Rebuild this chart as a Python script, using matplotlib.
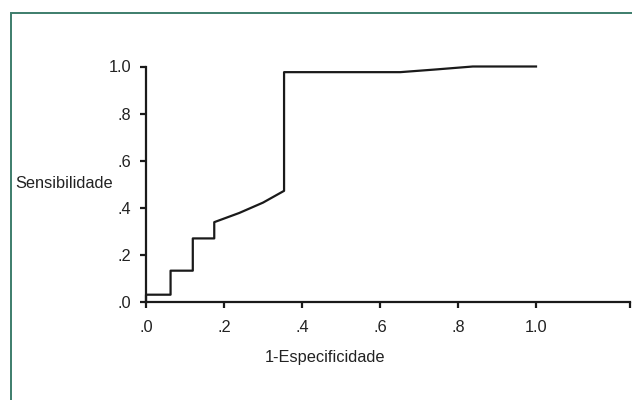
import matplotlib
matplotlib.use("Agg")
import matplotlib.pyplot as plt

# ROC curve points
fpr = [0, 0, 0.063, 0.063, 0.120, 0.120, 0.175, 0.175, 0.239, 0.300, 0.354, 0.354, 0.652, 0.740, 0.838, 1.0]
tpr = [0, 0.031, 0.031, 0.133, 0.133, 0.270, 0.270, 0.339, 0.378, 0.422, 0.472, 0.976, 0.976, 0.987, 1.0, 1.0]

xticks = [0, 0.2, 0.4, 0.6, 0.8, 1.0, 1.24]
xlabels = [".0", ".2", ".4", ".6", ".8", "1.0", ""]
yticks = [0, 0.2, 0.4, 0.6, 0.8, 1.0]
ylabels = [".0", ".2", ".4", ".6", ".8", "1.0"]

plt.rcParams['font.family'] = ['Liberation Sans', 'DejaVu Sans']

fig = plt.figure(figsize=(6.32, 4.0), dpi=100)

# greenish frame around the figure (only top and left edges visible)
frame = plt.Rectangle((11 / 632, -0.1), 1.2, (400 - 13) / 400 + 0.1,
                      transform=fig.transFigure, fill=False,
                      edgecolor='#3d7d6b', linewidth=1.4)
fig.patches.append(frame)

ax = fig.add_axes([146 / 632, 98 / 400, 1.24 * 390 / 632, 235.5 / 400])
ax.plot(fpr, tpr, color='#1a1a1a', linewidth=1.6, clip_on=False)

ax.set_xlim(0, 1.24)
ax.set_ylim(0, 1.0)
ax.set_xticks(xticks)
ax.set_xticklabels(xlabels)
ax.set_yticks(yticks)
ax.set_yticklabels(ylabels)

for side in ['top', 'right']:
    ax.spines[side].set_visible(False)
for side in ['left', 'bottom']:
    ax.spines[side].set_linewidth(1.6)
    ax.spines[side].set_color('#1a1a1a')

ax.tick_params(axis='both', direction='out', length=4.5, width=1.6,
               color='#1a1a1a', labelsize=11.8, labelcolor='#222222')
ax.tick_params(axis='x', pad=8.5)
ax.tick_params(axis='y', pad=6)

ax.set_xlabel('1-Especificidade', fontsize=11.8, color='#222222')
ax.xaxis.set_label_coords(0.46 / 1.24, -0.205)
ax.set_ylabel('Sensibilidade', fontsize=11.8, color='#222222',
              rotation=0, ha='right', va='center')
ax.yaxis.set_label_coords(-33 / (1.24 * 390), 0.505)

fig.savefig('out.png', dpi=100)
